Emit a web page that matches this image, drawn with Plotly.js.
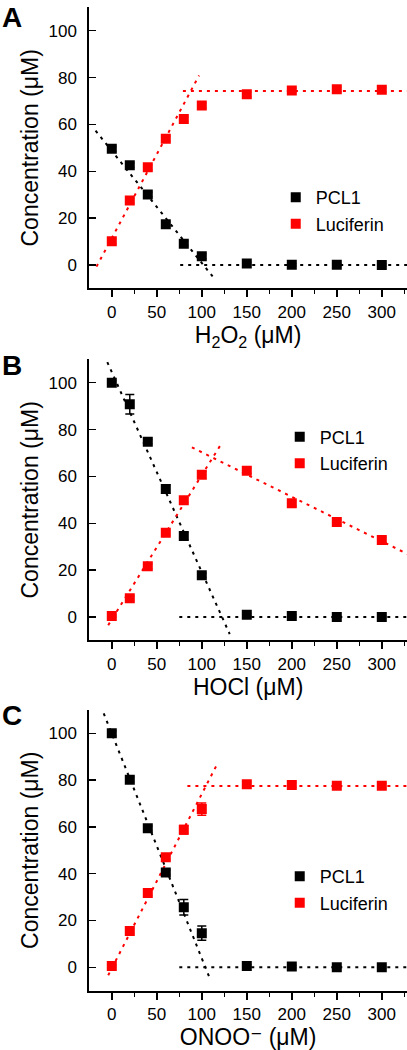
<!DOCTYPE html>
<html>
<head>
<meta charset="utf-8">
<script src="https://cdn.plot.ly/plotly-3.0.1.min.js"></script>
<style>html,body{margin:0;padding:0;background:#fff;}#chart{width:407px;height:1050px;}</style>
</head>
<body>
<div id="chart"></div>
<script>
// ---- data ----
const conc = [0, 20, 40, 60, 80, 100, 150, 200, 250, 300];
const xTickVals = [0, 50, 100, 150, 200, 250, 300];
const xMinorVals = [25, 75, 125, 175, 225, 275, 325];
const yTickVals = [0, 20, 40, 60, 80, 100];

// Panel A: H2O2
const pclA = [49.6, 42.6, 30.1, 17.4, 9.1, 3.7, 0.6, 0.1, 0.1, 0.0];
const pclAErr = [1, 1, 1, 1, 1, 1, 0.5, 0.5, 0.5, 0.5];
const lucA = [10.1, 27.5, 41.7, 53.9, 62.3, 68.1, 72.9, 74.5, 75.0, 74.8];
const lucAErr = [1, 1, 1, 1, 1, 1, 1, 1, 1, 1];
// Panel B: HOCl
const pclB = [100, 90.8, 74.8, 54.6, 34.6, 17.8, 1.0, 0.4, 0.0, 0.0];
const pclBErr = [1, 4.2, 1, 1.8, 1.5, 1, 0.5, 0.5, 0.3, 0.3];
const lucB = [0.4, 8.0, 21.6, 36.0, 49.8, 60.7, 62.4, 48.5, 40.5, 32.9];
const lucBErr = [0.5, 1, 1, 1, 1, 1.5, 1, 1, 1, 1];
// Panel C: ONOO-
const pclC = [100, 80.2, 59.4, 40.5, 25.7, 14.6, 0.6, 0.3, 0.0, 0.0];
const pclCErr = [1, 1, 1, 1, 3.3, 3.0, 0.5, 0.5, 0.3, 0.3];
const lucC = [0.6, 15.5, 31.8, 47.0, 58.8, 67.6, 78.2, 77.9, 77.6, 77.6];
const lucCErr = [0.5, 1, 1, 1, 1.8, 2.6, 1, 1, 1, 1];

// fitted guide lines (end points in data units)
const fitA_pclX = [-18, 112], fitA_pclY = [57.3, -4.9];
const fitA_pclFlatX = [76, 330], fitA_pclFlatY = [0, 0];
const fitA_lucX = [-17, 97], fitA_lucY = [-0.7, 80.9];
const fitA_lucFlatX = [79, 330], fitA_lucFlatY = [74.3, 74.3];

const fitB_pclX = [-5, 131], fitB_pclY = [108.8, -7.3];
const fitB_pclFlatX = [75, 330], fitB_pclFlatY = [0, 0];
const fitB_lucX = [-4, 121], fitB_lucY = [-3.5, 73.5];
const fitB_lucDecX = [89, 330], fitB_lucDecY = [72.4, 26.6];

const fitC_pclX = [-9, 110], fitC_pclY = [108.5, -5.8];
const fitC_pclFlatX = [75, 330], fitC_pclFlatY = [0, 0];
const fitC_lucX = [-4, 118], fitC_lucY = [-3.4, 87.5];
const fitC_lucFlatX = [84, 330], fitC_lucFlatY = [77.5, 77.5];

const seriesNames = ['PCL1', 'Luciferin'];
const xTitles = ['H<sub>2</sub>O<sub>2</sub> (μM)', 'HOCl (μM)', 'ONOO⁻ (μM)'];
const yTitle = 'Concentration (μM)';
const panelLetters = ['A', 'B', 'C'];

// ---- styling ----
const FONT = 'Liberation Sans, Arial, Helvetica, DejaVu Sans, sans-serif';
const RED = '#ff0000', BLACK = '#000000';

function fitLine(x, y, color, ax) {
  return {x: x, y: y, mode: 'lines', type: 'scatter', xaxis: ax[0], yaxis: ax[1],
    line: {color: color, width: 2, dash: '3px,5px'}, showlegend: false, hoverinfo: 'skip'};
}
function pts(name, y, err, color, ax, legend) {
  return {x: conc, y: y, name: name, mode: 'markers', type: 'scatter', xaxis: ax[0], yaxis: ax[1],
    legend: legend,
    marker: {symbol: 'square', size: 10, color: color, line: {width: 0}},
    error_y: {type: 'data', array: err, visible: true, color: color, thickness: 1.5, width: 4.5}};
}

const axA = ['x', 'y'], axB = ['x2', 'y2'], axC = ['x3', 'y3'];
const traces = [
  fitLine(fitA_pclX, fitA_pclY, BLACK, axA),
  fitLine(fitA_pclFlatX, fitA_pclFlatY, BLACK, axA),
  fitLine(fitA_lucX, fitA_lucY, RED, axA),
  fitLine(fitA_lucFlatX, fitA_lucFlatY, RED, axA),
  pts(seriesNames[0], pclA, pclAErr, BLACK, axA, 'legend'),
  pts(seriesNames[1], lucA, lucAErr, RED, axA, 'legend'),

  fitLine(fitB_pclX, fitB_pclY, BLACK, axB),
  fitLine(fitB_pclFlatX, fitB_pclFlatY, BLACK, axB),
  fitLine(fitB_lucX, fitB_lucY, RED, axB),
  fitLine(fitB_lucDecX, fitB_lucDecY, RED, axB),
  pts(seriesNames[0], pclB, pclBErr, BLACK, axB, 'legend2'),
  pts(seriesNames[1], lucB, lucBErr, RED, axB, 'legend2'),

  fitLine(fitC_pclX, fitC_pclY, BLACK, axC),
  fitLine(fitC_pclFlatX, fitC_pclFlatY, BLACK, axC),
  fitLine(fitC_lucX, fitC_lucY, RED, axC),
  fitLine(fitC_lucFlatX, fitC_lucFlatY, RED, axC),
  pts(seriesNames[0], pclC, pclCErr, BLACK, axC, 'legend3'),
  pts(seriesNames[1], lucC, lucCErr, RED, axC, 'legend3')
];

function xAxis(title, anchor, standoff) {
  return {domain: [0.2194, 1], range: [-25, 328], anchor: anchor,
    tickvals: xTickVals, ticktext: xTickVals.map(String),
    ticks: 'outside', ticklen: 7, tickwidth: 1.5, tickcolor: BLACK,
    minor: {ticks: 'outside', ticklen: 4, tickwidth: 1.5, tickcolor: BLACK, tickvals: xMinorVals, showgrid: false},
    showline: true, linewidth: 2, linecolor: BLACK, mirror: false,
    showgrid: false, zeroline: false,
    tickfont: {family: FONT, size: 17, color: BLACK},
    title: {text: title, font: {family: FONT, size: 23, color: BLACK}, standoff: standoff}};
}
function yAxis(domain, anchor) {
  return {domain: domain, range: [-10, 110], anchor: anchor,
    tickvals: yTickVals, ticktext: yTickVals.map(String),
    ticks: 'inside', ticklen: 7, tickwidth: 1.5, tickcolor: BLACK,
    showline: true, linewidth: 2, linecolor: BLACK, mirror: false,
    showgrid: false, zeroline: false, ticklabelstandoff: 7,
    tickfont: {family: FONT, size: 17, color: BLACK},
    title: {text: yTitle, font: {family: FONT, size: 23, color: BLACK}, standoff: 3}};
}
function legendAt(x, y) {
  return {x: x, y: y, xanchor: 'left', yanchor: 'middle', bgcolor: 'rgba(0,0,0,0)',
    borderwidth: 0, traceorder: 'normal', font: {family: FONT, size: 18, color: BLACK}};
}

const layout = {
  width: 407, height: 1050,
  margin: {l: 0, r: 0, t: 0, b: 0},
  paper_bgcolor: '#ffffff', plot_bgcolor: 'rgba(0,0,0,0)',
  showlegend: true,
  xaxis: xAxis(xTitles[0], 'y', 4),
  yaxis: yAxis([0.72533, 0.99305], 'x'),
  xaxis2: xAxis(xTitles[1], 'y2', 3),
  yaxis2: yAxis([0.39010, 0.65781], 'x2'),
  xaxis3: xAxis(xTitles[2], 'y3', 9),
  yaxis3: yAxis([0.05648, 0.32390], 'x3'),
  legend: legendAt(0.6775, 0.7994),
  legend2: legendAt(0.6873, 0.5714),
  legend3: legendAt(0.6873, 0.1527),
  annotations: panelLetters.map((t, i) => ({
    text: '<b>' + t + '</b>', xref: 'paper', yref: 'paper', showarrow: false,
    x: 0, xanchor: 'left', y: [1 - 17.5 / 1050, 1 - 365.5 / 1050, 1 - 715.5 / 1050][i], yanchor: 'middle',
    font: {family: FONT, size: 28, color: BLACK}
  }))
};

Plotly.newPlot('chart', traces, layout, {staticPlot: true, displayModeBar: false});
</script>
</body>
</html>
